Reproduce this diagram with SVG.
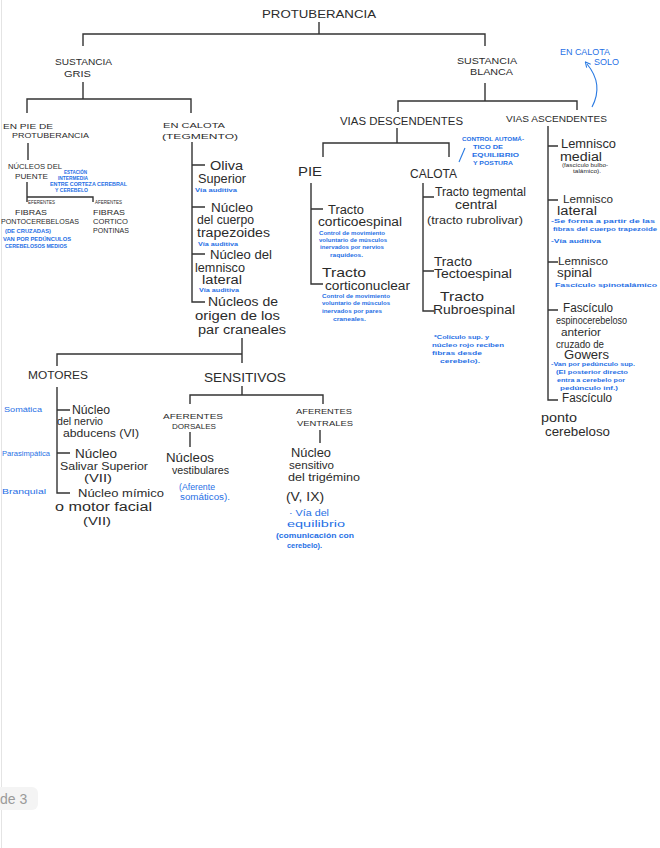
<svg xmlns="http://www.w3.org/2000/svg" width="660" height="848" viewBox="0 0 660 848">
<defs>
<style>
text{font-family:"Liberation Sans",Arial,sans-serif;fill:#2b2b2b}
.k{font-size:9px}
.k8{font-size:8px}
.t{font-size:5px}
.h{font-size:12px}
.h10{font-size:10.5px}
.b{font-size:6px;fill:#1f6fe5;font-weight:bold}
.b8{font-size:8.5px;fill:#1f6fe5}
.ln{stroke:#333;stroke-width:1.4;fill:none}
.bl{stroke:#2a7ae2;stroke-width:1.1;fill:none}
</style>
<marker id="ah" viewBox="0 0 10 10" refX="5" refY="5" markerWidth="6" markerHeight="6" orient="auto-start-reverse">
<path d="M1,1 L9,5 L1,9" fill="none" stroke="#2a7ae2" stroke-width="1.6"/>
</marker>
</defs>
<rect width="660" height="848" fill="#fff"/>
<line x1="1.5" y1="0" x2="1.5" y2="848" stroke="#e4e4e4" stroke-width="1"/>
<g id="connectors">
<path class="ln" d="M319,22 V34 M83,46 V34 H485 V46"/>
<path class="ln" d="M83,82 V99 M27,113 V99 H191 V113"/>
<path class="ln" d="M485,83 V101 M398,112 V101 H577 V110"/>
<path class="ln" d="M397,128 V143 M323,157 V143 H449 V157"/>
<path class="ln" d="M28,143 V160"/>
<path class="ln" d="M27,182 V197 M27,202 V197 H93 V202"/>
<path class="ln" d="M192,142 V302 H205 M192,165 H205 M192,207 H205 M192,254 H205"/>
<path class="ln" d="M242,338 V363 M57,366 V354 H242"/>
<path class="ln" d="M57,387 V493 H70 M57,410 H70 M57,453 H70"/>
<path class="ln" d="M242,386 V395 M190,404 V395 H323 V404"/>
<path class="ln" d="M190,432 V447 M320,430 V443"/>
<path class="ln" d="M311,183 V284 H323 M311,209 H323"/>
<path class="ln" d="M423,183 V311 H434 M423,197 H434 M423,271 H434"/>
<path class="ln" d="M548,126 V400 H558 M548,146 H558 M548,200 H558 M548,262 H558 M548,310 H558"/>
<path class="bl" d="M592,107 C601,90 597,76 587,64" marker-end="url(#ah)"/>
<path class="bl" d="M459,162 L465,148"/>
</g>
<g id="protuberancia"><text class="k" x="262" y="18" textLength="114" lengthAdjust="spacingAndGlyphs" style="font-size:10.5px">PROTUBERANCIA</text></g>
<g id="sustancia-gris"><text class="k" x="55" y="65" textLength="57" lengthAdjust="spacingAndGlyphs">SUSTANCIA</text><text class="k" x="64" y="77" textLength="27" lengthAdjust="spacingAndGlyphs">GRIS</text></g>
<g id="sustancia-blanca"><text class="k" x="457" y="64" textLength="60" lengthAdjust="spacingAndGlyphs">SUSTANCIA</text><text class="k" x="470" y="75" textLength="43" lengthAdjust="spacingAndGlyphs">BLANCA</text></g>
<g id="en-calota-solo"><text class="b8" x="560" y="55" textLength="50" lengthAdjust="spacingAndGlyphs">EN CALOTA</text><text class="b8" x="594" y="65" textLength="25" lengthAdjust="spacingAndGlyphs">SOLO</text></g>
<g id="en-pie"><text class="k8" x="3" y="129" textLength="50" lengthAdjust="spacingAndGlyphs">EN PIE DE</text><text class="k8" x="12" y="138" textLength="77" lengthAdjust="spacingAndGlyphs" style="font-size:7.5px">PROTUBERANCIA</text></g>
<g id="en-calota"><text class="k8" x="163" y="128" textLength="62" lengthAdjust="spacingAndGlyphs">EN CALOTA</text><text class="k8" x="162" y="139" textLength="76" lengthAdjust="spacingAndGlyphs">(TEGMENTO)</text></g>
<g id="nucleos-puente"><text class="k8" x="8" y="169" textLength="54" lengthAdjust="spacingAndGlyphs">NÚCLEOS DEL</text><text class="k8" x="15" y="179" textLength="33" lengthAdjust="spacingAndGlyphs">PUENTE</text>
<text class="b" x="64" y="174" textLength="23" lengthAdjust="spacingAndGlyphs" style="font-size:5px">ESTACIÓN</text><text class="b" x="58" y="180" textLength="30" lengthAdjust="spacingAndGlyphs" style="font-size:5px">INTERMEDIA</text><text class="b" x="50" y="186" textLength="77" lengthAdjust="spacingAndGlyphs" style="font-size:5px">ENTRE CORTEZA CEREBRAL</text><text class="b" x="55" y="192" textLength="33" lengthAdjust="spacingAndGlyphs" style="font-size:5px">Y CEREBELO</text></g>
<g id="fibras-ponto"><text class="t" x="28" y="204" textLength="27" lengthAdjust="spacingAndGlyphs" style="font-size:4.5px">EFERENTES</text><text class="k8" x="15" y="215" textLength="32" lengthAdjust="spacingAndGlyphs">FIBRAS</text><text class="k8" x="1" y="224" textLength="78" lengthAdjust="spacingAndGlyphs" style="font-size:7.5px">PONTOCEREBELOSAS</text>
<text class="b" x="5" y="233" textLength="46" lengthAdjust="spacingAndGlyphs">(DE CRUZADAS)</text><text class="b" x="3" y="241" textLength="68" lengthAdjust="spacingAndGlyphs" style="font-size:5px">VAN POR PEDÚNCULOS</text><text class="b" x="5" y="248" textLength="62" lengthAdjust="spacingAndGlyphs" style="font-size:5px">CEREBELOSOS MEDIOS</text></g>
<g id="fibras-cortico"><text class="t" x="95" y="204" textLength="27" lengthAdjust="spacingAndGlyphs" style="font-size:4.5px">AFERENTES</text><text class="k8" x="93" y="215" textLength="32" lengthAdjust="spacingAndGlyphs">FIBRAS</text><text class="k8" x="93" y="224" textLength="35" lengthAdjust="spacingAndGlyphs" style="font-size:7.5px">CORTICO</text><text class="k8" x="93" y="233" textLength="36" lengthAdjust="spacingAndGlyphs" style="font-size:7.5px">PONTINAS</text></g>
<g id="oliva"><text class="h" x="210" y="170" textLength="33" lengthAdjust="spacingAndGlyphs">Oliva</text><text class="h" x="198" y="183" textLength="48" lengthAdjust="spacingAndGlyphs">Superior</text><text class="b" x="195" y="192" textLength="42" lengthAdjust="spacingAndGlyphs">Vía auditiva</text></g>
<g id="cuerpo-trapezoide"><text class="h" x="211" y="212" textLength="42" lengthAdjust="spacingAndGlyphs">Núcleo</text><text class="h" x="197" y="224" textLength="57" lengthAdjust="spacingAndGlyphs">del cuerpo</text><text class="h" x="197" y="237" textLength="73" lengthAdjust="spacingAndGlyphs">trapezoides</text><text class="b" x="198" y="246" textLength="40" lengthAdjust="spacingAndGlyphs">Vía auditiva</text></g>
<g id="lemnisco-lateral-nucleo"><text class="h" x="210" y="259" textLength="62" lengthAdjust="spacingAndGlyphs">Núcleo del</text><text class="h" x="195" y="272" textLength="50" lengthAdjust="spacingAndGlyphs">lemnisco</text><text class="h" x="202" y="284" textLength="40" lengthAdjust="spacingAndGlyphs">lateral</text><text class="b" x="199" y="292" textLength="40" lengthAdjust="spacingAndGlyphs">Vía auditiva</text></g>
<g id="pares-craneales"><text class="h" x="208" y="306" textLength="70" lengthAdjust="spacingAndGlyphs">Núcleos de</text><text class="h" x="195" y="320" textLength="85" lengthAdjust="spacingAndGlyphs">origen de los</text><text class="h" x="198" y="334" textLength="88" lengthAdjust="spacingAndGlyphs">par craneales</text></g>
<g id="motores"><text class="k" x="28" y="379" textLength="60" lengthAdjust="spacingAndGlyphs" style="font-size:10px">MOTORES</text></g>
<g id="sensitivos"><text class="k" x="204" y="382" textLength="82" lengthAdjust="spacingAndGlyphs" style="font-size:12px">SENSITIVOS</text></g>
<g id="abducens"><text class="b8" x="4" y="412" textLength="38" lengthAdjust="spacingAndGlyphs" style="font-size:7px">Somática</text><text class="h" x="72" y="414" textLength="38" lengthAdjust="spacingAndGlyphs">Núcleo</text><text class="h" x="57" y="425" textLength="46" lengthAdjust="spacingAndGlyphs" style="font-size:11px">del nervio</text><text class="h" x="63" y="437" textLength="76" lengthAdjust="spacingAndGlyphs" style="font-size:11px">abducens (VI)</text></g>
<g id="salivar"><text class="b8" x="2" y="456" textLength="48" lengthAdjust="spacingAndGlyphs" style="font-size:7px">Parasimpática</text><text class="h" x="75" y="458" textLength="42" lengthAdjust="spacingAndGlyphs">Núcleo</text><text class="h" x="60" y="470" textLength="88" lengthAdjust="spacingAndGlyphs" style="font-size:11.5px">Salivar Superior</text><text class="h" x="84" y="482" textLength="28" lengthAdjust="spacingAndGlyphs" style="font-size:11px">(VII)</text></g>
<g id="facial"><text class="b8" x="2" y="494" textLength="44" lengthAdjust="spacingAndGlyphs" style="font-size:7px">Branquial</text><text class="h" x="78" y="497" textLength="86" lengthAdjust="spacingAndGlyphs" style="font-size:11.5px">Núcleo mímico</text><text class="h" x="55" y="511" textLength="97" lengthAdjust="spacingAndGlyphs">o motor facial</text><text class="h" x="83" y="525" textLength="28" lengthAdjust="spacingAndGlyphs" style="font-size:11px">(VII)</text></g>
<g id="aferentes-dorsales"><text class="k8" x="163" y="419" textLength="60" lengthAdjust="spacingAndGlyphs">AFERENTES</text><text class="k8" x="172" y="429" textLength="44" lengthAdjust="spacingAndGlyphs">DORSALES</text></g>
<g id="vestibulares"><text class="h" x="166" y="462" textLength="48" lengthAdjust="spacingAndGlyphs">Núcleos</text><text class="h" x="172" y="474" textLength="57" lengthAdjust="spacingAndGlyphs" style="font-size:11px">vestibulares</text><text class="b8" x="179" y="490" textLength="36" lengthAdjust="spacingAndGlyphs">(Aferente</text><text class="b8" x="180" y="500" textLength="50" lengthAdjust="spacingAndGlyphs">somáticos).</text></g>
<g id="aferentes-ventrales"><text class="k8" x="296" y="414" textLength="56" lengthAdjust="spacingAndGlyphs">AFERENTES</text><text class="k8" x="297" y="426" textLength="56" lengthAdjust="spacingAndGlyphs">VENTRALES</text></g>
<g id="trigemino"><text class="h" x="291" y="457" textLength="40" lengthAdjust="spacingAndGlyphs">Núcleo</text><text class="h" x="289" y="469" textLength="45" lengthAdjust="spacingAndGlyphs" style="font-size:11px">sensitivo</text><text class="h" x="288" y="481" textLength="72" lengthAdjust="spacingAndGlyphs" style="font-size:11px">del trigémino</text><text class="h" x="286" y="501" textLength="38" lengthAdjust="spacingAndGlyphs">(V, IX)</text>
<text class="b8" x="289" y="516" textLength="40" lengthAdjust="spacingAndGlyphs" style="font-size:9px">· Vía del</text><text class="b8" x="287" y="527" textLength="58" lengthAdjust="spacingAndGlyphs" style="font-size:9px">equilibrio</text><text class="b" x="276" y="538" textLength="78" lengthAdjust="spacingAndGlyphs" style="font-size:7px">(comunicación con</text><text class="b" x="287" y="548" textLength="35" lengthAdjust="spacingAndGlyphs" style="font-size:7px">cerebelo).</text></g>
<g id="vias-descendentes"><text class="k" x="340" y="125" textLength="123" lengthAdjust="spacingAndGlyphs" style="font-size:10px">VIAS DESCENDENTES</text></g>
<g id="vias-ascendentes"><text class="k" x="506" y="122" textLength="101" lengthAdjust="spacingAndGlyphs">VIAS ASCENDENTES</text></g>
<g id="pie"><text class="h" x="298" y="176" textLength="24" lengthAdjust="spacingAndGlyphs">PIE</text></g>
<g id="calota"><text class="h" x="410" y="178" textLength="47" lengthAdjust="spacingAndGlyphs">CALOTA</text>
<text class="b" x="462" y="141" textLength="62" lengthAdjust="spacingAndGlyphs">CONTROL AUTOMÁ-</text><text class="b" x="473" y="149" textLength="30" lengthAdjust="spacingAndGlyphs">TICO DE</text><text class="b" x="472" y="157" textLength="47" lengthAdjust="spacingAndGlyphs">EQUILIBRIO</text><text class="b" x="473" y="165" textLength="40" lengthAdjust="spacingAndGlyphs">Y POSTURA</text></g>
<g id="corticoespinal"><text class="h" x="328" y="214" textLength="36" lengthAdjust="spacingAndGlyphs">Tracto</text><text class="h" x="318" y="226" textLength="84" lengthAdjust="spacingAndGlyphs">corticoespinal</text><text class="b" x="319" y="235" textLength="66" lengthAdjust="spacingAndGlyphs" style="font-size:5.5px">Control de movimiento</text><text class="b" x="319" y="242" textLength="68" lengthAdjust="spacingAndGlyphs" style="font-size:5.5px">voluntario de músculos</text><text class="b" x="320" y="249" textLength="64" lengthAdjust="spacingAndGlyphs" style="font-size:5.5px">inervados por nervios</text><text class="b" x="330" y="257" textLength="33" lengthAdjust="spacingAndGlyphs" style="font-size:5.5px">raquídeos.</text></g>
<g id="corticonuclear"><text class="h" x="322" y="277" textLength="44" lengthAdjust="spacingAndGlyphs" style="font-size:13px">Tracto</text><text class="h" x="325" y="290" textLength="85" lengthAdjust="spacingAndGlyphs">corticonuclear</text><text class="b" x="322" y="298" textLength="68" lengthAdjust="spacingAndGlyphs" style="font-size:5.5px">Control de movimiento</text><text class="b" x="322" y="305" textLength="68" lengthAdjust="spacingAndGlyphs" style="font-size:5.5px">voluntario de músculos</text><text class="b" x="322" y="313" textLength="60" lengthAdjust="spacingAndGlyphs" style="font-size:5.5px">inervados por pares</text><text class="b" x="333" y="321" textLength="33" lengthAdjust="spacingAndGlyphs" style="font-size:5.5px">craneales.</text></g>
<g id="tegmental"><text class="h" x="435" y="196" textLength="91" lengthAdjust="spacingAndGlyphs">Tracto tegmental</text><text class="h" x="455" y="209" textLength="42" lengthAdjust="spacingAndGlyphs">central</text><text class="h10" x="427" y="224" textLength="96" lengthAdjust="spacingAndGlyphs">(tracto rubrolivar)</text></g>
<g id="tectoespinal"><text class="h" x="434" y="266" textLength="38" lengthAdjust="spacingAndGlyphs">Tracto</text><text class="h" x="434" y="278" textLength="78" lengthAdjust="spacingAndGlyphs">Tectoespinal</text></g>
<g id="rubroespinal"><text class="h" x="440" y="301" textLength="44" lengthAdjust="spacingAndGlyphs" style="font-size:13px">Tracto</text><text class="h" x="433" y="314" textLength="82" lengthAdjust="spacingAndGlyphs" style="font-size:13px">Rubroespinal</text>
<text class="b" x="434" y="339" textLength="55" lengthAdjust="spacingAndGlyphs">*Colículo sup. y</text><text class="b" x="432" y="347" textLength="72" lengthAdjust="spacingAndGlyphs">núcleo rojo reciben</text><text class="b" x="432" y="355" textLength="50" lengthAdjust="spacingAndGlyphs">fibras desde</text><text class="b" x="440" y="363" textLength="40" lengthAdjust="spacingAndGlyphs">cerebelo).</text></g>
<g id="lemnisco-medial"><text class="h" x="561" y="148" textLength="55" lengthAdjust="spacingAndGlyphs">Lemnisco</text><text class="h" x="560" y="161" textLength="42" lengthAdjust="spacingAndGlyphs">medial</text><text class="t" x="562" y="167" textLength="46" lengthAdjust="spacingAndGlyphs">(fascículo bulbo-</text><text class="t" x="573" y="173" textLength="28" lengthAdjust="spacingAndGlyphs">talámico).</text></g>
<g id="lemnisco-lateral"><text class="h" x="563" y="203" textLength="50" lengthAdjust="spacingAndGlyphs" style="font-size:11px">Lemnisco</text><text class="h" x="557" y="215" textLength="40" lengthAdjust="spacingAndGlyphs">lateral</text><text class="b" x="551" y="223" textLength="104" lengthAdjust="spacingAndGlyphs">-Se forma a partir de las</text><text class="b" x="553" y="231" textLength="104" lengthAdjust="spacingAndGlyphs">fibras del cuerpo trapezoide</text><text class="b" x="551" y="243" textLength="50" lengthAdjust="spacingAndGlyphs">-Vía auditiva</text></g>
<g id="lemnisco-spinal"><text class="h" x="558" y="265" textLength="50" lengthAdjust="spacingAndGlyphs" style="font-size:11px">Lemnisco</text><text class="h" x="557" y="277" textLength="35" lengthAdjust="spacingAndGlyphs">spinal</text><text class="b" x="555" y="287" textLength="102" lengthAdjust="spacingAndGlyphs">Fascículo spinotalámico</text></g>
<g id="gowers"><text class="h" x="563" y="312" textLength="50" lengthAdjust="spacingAndGlyphs">Fascículo</text><text class="h10" x="556" y="324" textLength="71" lengthAdjust="spacingAndGlyphs">espinocerebeloso</text><text class="h10" x="561" y="336" textLength="40" lengthAdjust="spacingAndGlyphs">anterior</text><text class="h10" x="556" y="348" textLength="48" lengthAdjust="spacingAndGlyphs">cruzado de</text><text class="h" x="564" y="359" textLength="45" lengthAdjust="spacingAndGlyphs">Gowers</text>
<text class="b" x="551" y="366" textLength="84" lengthAdjust="spacingAndGlyphs">-Van por pedúnculo sup.</text><text class="b" x="556" y="374" textLength="72" lengthAdjust="spacingAndGlyphs">(El posterior directo</text><text class="b" x="557" y="382" textLength="68" lengthAdjust="spacingAndGlyphs">entra a cerebelo por</text><text class="b" x="560" y="390" textLength="58" lengthAdjust="spacingAndGlyphs">pedúnculo inf.)</text></g>
<g id="pontocerebeloso"><text class="h" x="562" y="402" textLength="50" lengthAdjust="spacingAndGlyphs">Fascículo</text><text class="h" x="541" y="422" textLength="36" lengthAdjust="spacingAndGlyphs" style="font-size:13px">ponto</text><text class="h" x="545" y="436" textLength="65" lengthAdjust="spacingAndGlyphs" style="font-size:13px">cerebeloso</text></g>
<g id="page"><rect x="-6" y="787" width="44" height="23" rx="6" fill="#f4f4f4"/><text x="0" y="804" style="font-size:14px;fill:#9a9a9a">de 3</text></g>
</svg>
